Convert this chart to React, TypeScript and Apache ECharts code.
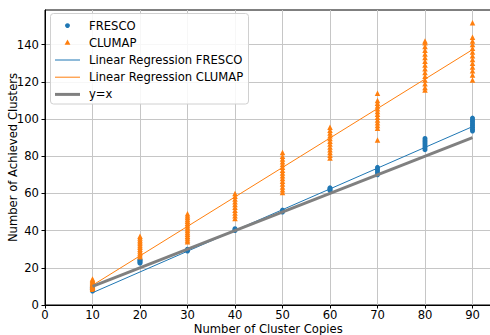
import React, { useEffect, useRef } from 'react';
import * as echarts from 'echarts';

const copies = [10, 20, 30, 40, 50, 60, 70, 80, 90];

const frescoValues = [
  [7.5, 8, 8.5, 9, 9.5, 10],
  [22.5, 23, 23.5, 24, 24.5],
  [29, 29.5, 30],
  [40, 40.5, 41],
  [50, 50.5, 51],
  [61.5, 62, 62.5, 63],
  [70, 71, 72, 73, 74],
  [83.5, 84.5, 85.5, 86.5, 87.5, 88.5, 89.5],
  [93.5, 94.5, 95.5, 96.5, 97.5, 98.5, 99.5, 100.5],
];

const clumapValues = [
  [8.5, 9, 9.5, 10, 10.5, 11, 11.5, 12, 12.5, 13, 13.5, 14],
  [26, 27, 28, 29, 30, 31, 32, 33, 34, 35, 36, 37],
  [34, 35, 36, 37, 38, 39, 40, 41, 42, 43, 44, 45, 46, 47, 48, 49],
  [46.5, 48, 49.5, 51, 52.5, 54, 55.5, 57, 58.5, 60],
  [60.5, 62, 63.5, 65, 66.5, 68, 69.5, 71, 72.5, 74, 75.5, 77, 78.5, 80, 82],
  [79, 80.5, 82, 83.5, 85, 86.5, 88, 89.5, 91, 92.5, 94, 95.5],
  [88.7, 95, 96.5, 98, 99.5, 101, 102.5, 104, 105.5, 107, 108.5, 110, 113.8],
  [115.6, 117, 119, 121, 123, 125, 127, 129, 131, 133, 135, 137, 139, 141, 142],
  [121, 123.7, 126, 128, 130, 132, 134, 136, 138, 140, 142, 143.9, 151.8],
];

const fitX = [10, 90];
const fitFresco = [6.6, 95.9];
const fitClumap = [10.6, 137.3];
const identityY = [10, 90];

const xTicks = [0, 10, 20, 30, 40, 50, 60, 70, 80, 90];
const yTicks = [0, 20, 40, 60, 80, 100, 120, 140];

const legendLabels = ['FRESCO', 'CLUMAP', 'Linear Regression FRESCO', 'Linear Regression CLUMAP', 'y=x'];

const BLUE = '#1f77b4';
const ORANGE = '#ff7f0e';
const GRAY = '#808080';
const FONT = 'DejaVu Sans';
const FS = 11.6;

export default function App() {
  const ref = useRef<HTMLDivElement>(null);
  useEffect(() => {
    const chart = echarts.init(ref.current!, null, { renderer: 'svg' });
    const frescoData = copies.flatMap((c, i) => frescoValues[i].map((v) => [c, v]));
    const clumapData = copies.flatMap((c, i) => clumapValues[i].map((v) => [c, v]));
    const axisCommon = {
      axisLine: { show: true, onZero: false, lineStyle: { color: '#000', width: 1 } },
      splitLine: { show: true, lineStyle: { color: '#c6c6c6', width: 1 } },
      nameLocation: 'middle',
      nameMoveOverlap: false,
      nameTextStyle: { fontFamily: FONT, fontSize: FS, color: '#000', lineHeight: 10 },
    };
    const rowY = [25.6, 42.8, 60, 77.2, 94.4];
    const legendGraphics: any[] = [
      {
        type: 'rect',
        shape: { x: 50.5, y: 13.5, width: 198, height: 90.5, r: 3 },
        style: { fill: 'rgba(255,255,255,0.85)', stroke: '#d0d0d0', lineWidth: 1 },
        z: 100,
      },
      { type: 'circle', shape: { cx: 67.5, cy: rowY[0], r: 2.4 }, style: { fill: BLUE }, z: 101 },
      {
        type: 'polygon',
        shape: { points: [[67.5, rowY[1] - 3.2], [64.6, rowY[1] + 2], [70.4, rowY[1] + 2]] },
        style: { fill: ORANGE },
        z: 101,
      },
      { type: 'line', shape: { x1: 55, y1: rowY[2], x2: 80, y2: rowY[2] }, style: { stroke: BLUE, lineWidth: 1 }, z: 101 },
      { type: 'line', shape: { x1: 55, y1: rowY[3], x2: 80, y2: rowY[3] }, style: { stroke: ORANGE, lineWidth: 1 }, z: 101 },
      { type: 'line', shape: { x1: 55, y1: rowY[4], x2: 80, y2: rowY[4] }, style: { stroke: GRAY, lineWidth: 3 }, z: 101 },
      ...legendLabels.map((t, i) => ({
        type: 'text',
        x: 89,
        y: rowY[i],
        style: { text: t, fontFamily: FONT, fontSize: FS, fill: '#000', verticalAlign: 'middle', textAlign: 'left' },
        z: 102,
      })),
    ];
    chart.setOption({
      animation: false,
      backgroundColor: '#fff',
      grid: {
        left: 45,
        top: 10,
        width: 446.5,
        height: 295,
        show: true,
        borderColor: '#000',
        borderWidth: 1,
        containLabel: false,
        outerBoundsMode: 'none',
      },
      xAxis: {
        ...axisCommon,
        type: 'value',
        min: 0,
        max: 94,
        interval: 10,
        name: 'Number of Cluster Copies',
        nameGap: 18.5,
        axisTick: { show: true, inside: false, length: 3.5, customValues: xTicks, lineStyle: { color: '#000' } },
        axisLabel: {
          customValues: xTicks,
          margin: 5,
          lineHeight: 10,
          fontFamily: FONT,
          fontSize: FS,
          color: '#000',
          formatter: (v: number) => (v % 10 === 0 ? String(v) : ''),
        },
      },
      yAxis: {
        ...axisCommon,
        type: 'value',
        min: 0,
        max: 158.6,
        interval: 20,
        name: 'Number of Achieved Clusters',
        nameGap: 27,
        axisTick: { show: true, inside: false, length: 3.5, customValues: yTicks, lineStyle: { color: '#000' } },
        axisLabel: {
          customValues: yTicks,
          margin: 6,
          fontFamily: FONT,
          fontSize: FS,
          color: '#000',
          formatter: (v: number) => (v % 20 === 0 ? String(v) : ''),
        },
      },
      series: [
        { name: 'FRESCO', type: 'scatter', data: frescoData, symbol: 'circle', symbolSize: 5, itemStyle: { color: BLUE, opacity: 1 } },
        { name: 'CLUMAP', type: 'scatter', data: clumapData, symbol: 'triangle', symbolSize: 5.5, itemStyle: { color: ORANGE, opacity: 1 } },
        {
          name: 'Linear Regression FRESCO',
          type: 'line',
          data: fitX.map((x, i) => [x, fitFresco[i]]),
          showSymbol: false,
          symbol: 'none',
          lineStyle: { color: BLUE, width: 1 },
        },
        {
          name: 'Linear Regression CLUMAP',
          type: 'line',
          data: fitX.map((x, i) => [x, fitClumap[i]]),
          showSymbol: false,
          symbol: 'none',
          lineStyle: { color: ORANGE, width: 1 },
        },
        {
          name: 'y=x',
          type: 'line',
          data: fitX.map((x, i) => [x, identityY[i]]),
          showSymbol: false,
          symbol: 'none',
          lineStyle: { color: GRAY, width: 3 },
        },
      ],
      graphic: legendGraphics,
    });
    return () => chart.dispose();
  }, []);
  return <div ref={ref} style={{ position: 'absolute', left: 0, top: 0, width: 490, height: 335 }} />;
}
